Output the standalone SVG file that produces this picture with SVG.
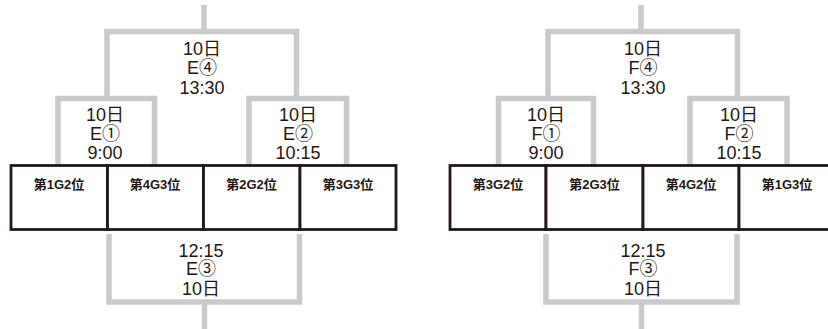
<svg xmlns="http://www.w3.org/2000/svg" width="828" height="329" viewBox="0 0 828 329">
<style>
.ln{fill:none;stroke:#c9caca;stroke-width:5.5;stroke-linejoin:miter;stroke-linecap:butt}
.bx{fill:#fff;stroke:#231815;stroke-width:2.8}
.m{font-family:"Liberation Sans","Noto Sans CJK JP",sans-serif;font-size:18px;fill:#231815;text-anchor:middle}
.t{font-family:"Liberation Sans","Noto Sans CJK JP",sans-serif;font-size:13px;font-weight:bold;fill:#231815;text-anchor:middle}
</style>
<rect width="828" height="329" fill="#fff"/>
<g id="connectors">
  <path class="ln" d="M204,5 V31.5"/>
  <path class="ln" d="M107,98.5 V31.5 H296.5 V98.5"/>
  <path class="ln" d="M58,165 V98.5 H154.5 V165"/>
  <path class="ln" d="M249,165 V98.5 H346.5 V165"/>
  <path class="ln" d="M109,234 V302 H299.5 V234"/>
  <path class="ln" d="M204.5,302 V329"/>
  <path class="ln" d="M641,5 V31.5"/>
  <path class="ln" d="M548,98.5 V31.5 H737.5 V98.5"/>
  <path class="ln" d="M498.5,165 V98.5 H593.5 V165"/>
  <path class="ln" d="M690,165 V98.5 H787 V165"/>
  <path class="ln" d="M546,234 V302 H737 V234"/>
  <path class="ln" d="M641.5,302 V329"/>
</g>
<g id="E4"><text class="m" x="202" y="55">10日</text><text class="m" x="202" y="74">E④</text><text class="m" x="202" y="93.5">13:30</text></g>
<g id="E1"><text class="m" x="105" y="120.5">10日</text><text class="m" x="105" y="140">E①</text><text class="m" x="105" y="158.5">9:00</text></g>
<g id="E2"><text class="m" x="298" y="120.5">10日</text><text class="m" x="298" y="140">E②</text><text class="m" x="298" y="158.5">10:15</text></g>
<g id="E3"><text class="m" x="201" y="256.5">12:15</text><text class="m" x="201" y="275">E③</text><text class="m" x="201" y="295">10日</text></g>
<g id="E-t1"><rect class="bx" x="11" y="165.5" width="96.5" height="64"/><text class="t" x="59" y="189">第1G2位</text></g>
<g id="E-t2"><rect class="bx" x="107.5" y="165.5" width="96" height="64"/><text class="t" x="155" y="189">第4G3位</text></g>
<g id="E-t3"><rect class="bx" x="203.5" y="165.5" width="96.5" height="64"/><text class="t" x="251.5" y="189">第2G2位</text></g>
<g id="E-t4"><rect class="bx" x="300" y="165.5" width="96" height="64"/><text class="t" x="348" y="189">第3G3位</text></g>
<g id="F4"><text class="m" x="643" y="55">10日</text><text class="m" x="643" y="74">F④</text><text class="m" x="643" y="93.5">13:30</text></g>
<g id="F1"><text class="m" x="546" y="120.5">10日</text><text class="m" x="546" y="140">F①</text><text class="m" x="546" y="158.5">9:00</text></g>
<g id="F2"><text class="m" x="739" y="120.5">10日</text><text class="m" x="739" y="140">F②</text><text class="m" x="739" y="158.5">10:15</text></g>
<g id="F3"><text class="m" x="643" y="256.5">12:15</text><text class="m" x="643" y="275">F③</text><text class="m" x="643" y="295">10日</text></g>
<g id="F-t1"><rect class="bx" x="450" y="165.5" width="96" height="64"/><text class="t" x="498" y="189">第3G2位</text></g>
<g id="F-t2"><rect class="bx" x="546" y="165.5" width="97" height="64"/><text class="t" x="594.5" y="189">第2G3位</text></g>
<g id="F-t3"><rect class="bx" x="643" y="165.5" width="96" height="64"/><text class="t" x="691" y="189">第4G2位</text></g>
<g id="F-t4"><rect class="bx" x="739" y="165.5" width="96" height="64"/><text class="t" x="787" y="189">第1G3位</text></g>
</svg>
